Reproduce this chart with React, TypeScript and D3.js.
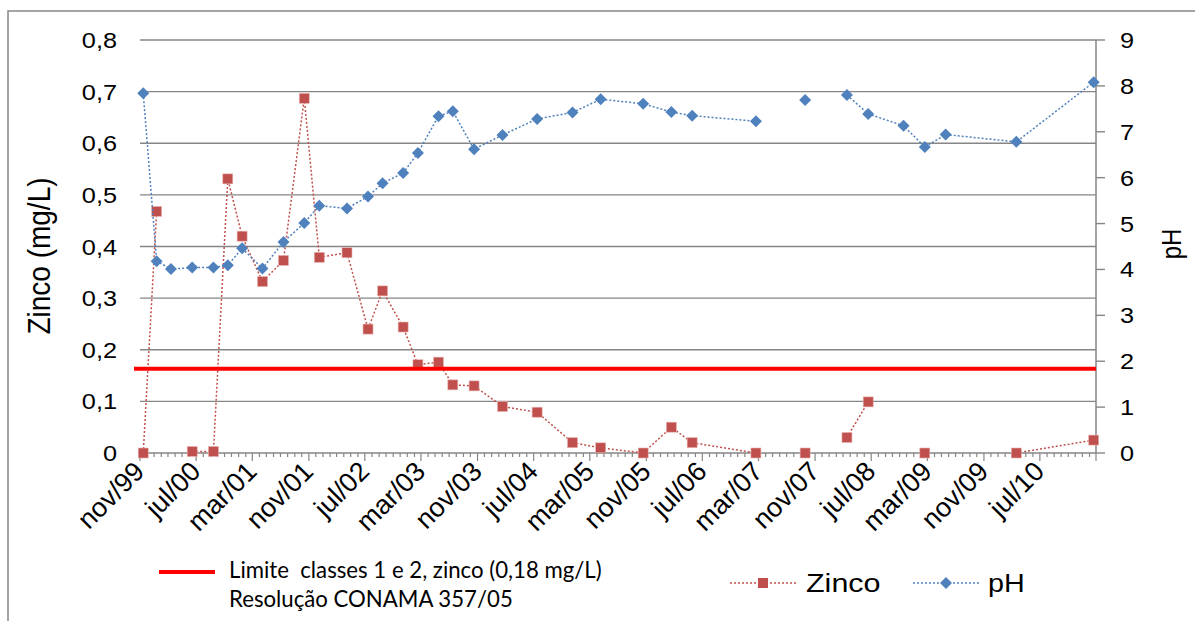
import React from 'react';
import * as d3 from 'd3';

// ---- data ----
const sampleDates: string[] = [
  '1999-11-15', '2000-01-12', '2000-03-14', '2000-06-14', '2000-09-14', '2000-11-15',
  '2001-01-16', '2001-04-14', '2001-07-14', '2001-10-12', '2001-12-16', '2002-04-15',
  '2002-07-15', '2002-09-16', '2002-12-14', '2003-02-16', '2003-05-16', '2003-07-17',
  '2003-10-17', '2004-02-17', '2004-07-16', '2004-12-16', '2005-04-17', '2005-10-18',
  '2006-02-17', '2006-05-18', '2007-02-18', '2007-06-15', '2007-09-19', '2007-12-15',
  '2008-03-18', '2008-06-18', '2008-11-18', '2009-02-18', '2009-05-19', '2010-03-21',
  '2011-02-19',
];
const zincoValues: (number | null)[] = [
  0, 0.468, null, 0.003, 0.003, 0.531,
  0.42, 0.332, 0.373, 0.687, 0.379, 0.388,
  0.24, 0.314, 0.244, 0.171, 0.176, 0.132,
  0.13, 0.09, 0.079, 0.02, 0.01, 0,
  0.05, 0.02, 0, null, 0, null,
  0.03, 0.099, null, 0, null, 0,
  0.025,
];
const phValues: (number | null)[] = [
  7.84, 4.18, 4.01, 4.04, 4.04, 4.09,
  4.46, 4.02, 4.6, 5.01, 5.39, 5.33,
  5.59, 5.88, 6.1, 6.54, 7.34, 7.45,
  6.62, 6.93, 7.28, 7.42, 7.71, 7.61,
  7.43, 7.35, 7.23, null, 7.69, null,
  7.8, 7.39, 7.13, 6.67, 6.94, 6.78,
  8.08,
];
const zincoTicks = [0, 0.1, 0.2, 0.3, 0.4, 0.5, 0.6, 0.7, 0.8];
const phTicks = [0, 1, 2, 3, 4, 5, 6, 7, 8, 9];
const monthNames = ['jan', 'fev', 'mar', 'abr', 'mai', 'jun', 'jul', 'ago', 'set', 'out', 'nov', 'dez'];
const axisStart = '1999-11-01';
const axisEnd = '2011-03-01';
const majorStepMonths = 8;
const limitValue = 0.163;
const limitLegend1 = 'Limite  classes 1 e 2, zinco (0,18 mg/L)';
const limitLegend2 = 'Resolução CONAMA 357/05';

const W = 1195;
const H = 621;
const plot = { left: 140, right: 1096, top: 40, bottom: 453 };
const ARIAL = "'Liberation Sans', Arial, sans-serif";
const CALIBRI = "Lato, 'Open Sans', sans-serif";
const GRID = '#868686';
const RED = '#C0504D';
const BLUE = '#4F81BD';
const SX = 1.15;

const parse = d3.timeParse('%Y-%m-%d');

export default function App() {
  const start = parse(axisStart)!;
  const end = parse(axisEnd)!;
  const x = d3.scaleTime().domain([start, end]).range([plot.left, plot.right]);
  const yL = d3.scaleLinear().domain([0, 0.8]).range([plot.bottom, plot.top]);
  const yR = d3.scaleLinear().domain([0, 9]).range([plot.bottom, plot.top]);

  const rows = sampleDates.map((d, i) => ({ date: parse(d)!, z: zincoValues[i], p: phValues[i] }));

  const zLine = d3.line<any>().defined((d) => d.z != null).x((d) => x(d.date)).y((d) => yL(d.z));
  const pLine = d3.line<any>().defined((d) => d.p != null).x((d) => x(d.date)).y((d) => yR(d.p));

  const months = d3.timeMonth.range(start, d3.timeMonth.offset(end, 1));
  const majors = months.filter((_, i) => i % majorStepMonths === 0);
  const labelMonths = majors.slice(0, majors.length - 1);
  const fmt = (d: Date) => `${monthNames[d.getMonth()]}/${String(d.getFullYear() % 100).padStart(2, '0')}`;
  const fmtZ = (v: number) => (v === 0 ? '0' : v.toFixed(1).replace('.', ','));

  const sq = 10;
  const dm = 6;

  return (
    <div style={{ position: 'absolute', left: 0, top: 0, width: W, height: H, overflow: 'hidden', background: '#fff' }}>
      <svg width={W} height={H} style={{ display: 'block' }}>
        <rect x={0} y={0} width={W} height={H} fill="#fff" />
        {/* outer chart border */}
        <rect x={8} y={11} width={W + 20} height={H + 20} fill="none" stroke={GRID} strokeWidth={1.5} />

        {/* gridlines */}
        {zincoTicks.filter((t) => t > 0).map((t) => (
          <line key={'g' + t} x1={plot.left} x2={plot.right} y1={yL(t)} y2={yL(t)} stroke={GRID} strokeWidth={1.4} />
        ))}

        {/* x axis */}
        <line x1={plot.left - 2} x2={plot.right} y1={plot.bottom} y2={plot.bottom} stroke={GRID} strokeWidth={1.5} />
        {months.map((m, i) => (
          <line key={'mt' + i} x1={x(m)} x2={x(m)} y1={plot.bottom} y2={plot.bottom + (i % majorStepMonths === 0 ? 8 : 4)} stroke={GRID} strokeWidth={1.2} />
        ))}
        {labelMonths.map((m, i) => {
          const tx = x(m) + 6;
          const ty = plot.bottom + 20;
          return (
            <text key={'xl' + i} transform={`translate(${tx},${ty}) rotate(-45)`} textAnchor="end" fontFamily={ARIAL} fontSize={27} fill="#000">
              {fmt(m)}
            </text>
          );
        })}

        {/* left axis labels */}
        {zincoTicks.map((t) => (
          <text key={'yl' + t} transform={`translate(${117},${yL(t) + 8}) scale(${SX},1)`} textAnchor="end" fontFamily={ARIAL} fontSize={22} fill="#000">
            {fmtZ(t)}
          </text>
        ))}
        <text transform={`translate(${50},${256}) scale(${SX},1) rotate(-90)`} textAnchor="middle" fontFamily={ARIAL} fontSize={28} fill="#000">
          Zinco (mg/L)
        </text>

        {/* right axis */}
        <line x1={plot.right} x2={plot.right} y1={plot.top} y2={plot.bottom} stroke={GRID} strokeWidth={1.5} />
        {phTicks.map((t) => (
          <g key={'yr' + t}>
            <line x1={plot.right} x2={plot.right + 9} y1={yR(t)} y2={yR(t)} stroke={GRID} strokeWidth={1.4} />
            <text transform={`translate(${1120},${yR(t) + 8}) scale(${SX},1)`} textAnchor="start" fontFamily={ARIAL} fontSize={22} fill="#000">
              {t}
            </text>
          </g>
        ))}
        <text transform={`translate(${1181},${244}) scale(${SX},1) rotate(-90)`} textAnchor="middle" fontFamily={ARIAL} fontSize={24} fill="#000">
          pH
        </text>

        {/* series: Zinco */}
        <path d={zLine(rows) || ''} fill="none" stroke={RED} strokeWidth={1.5} strokeDasharray="2,2" />
        {rows.filter((r) => r.z != null).map((r, i) => (
          <rect key={'zs' + i} x={x(r.date) - sq / 2} y={yL(r.z as number) - sq / 2} width={sq} height={sq} fill={RED} stroke="#E8B4B2" strokeWidth={0.6} />
        ))}

        {/* series: pH */}
        <path d={pLine(rows) || ''} fill="none" stroke={BLUE} strokeWidth={1.5} strokeDasharray="2,2" />
        {rows.filter((r) => r.p != null).map((r, i) => {
          const cx = x(r.date);
          const cy = yR(r.p as number);
          return <path key={'pd' + i} d={`M${cx},${cy - dm}L${cx + dm},${cy}L${cx},${cy + dm}L${cx - dm},${cy}Z`} fill={BLUE} />;
        })}

        {/* limit line */}
        <line x1={plot.left - 6} x2={plot.right} y1={yL(limitValue)} y2={yL(limitValue)} stroke="#FF0000" strokeWidth={4} />

        {/* legend */}
        <line x1={159} x2={215} y1={572} y2={572} stroke="#FF0000" strokeWidth={4} />
        <text x={229} y={578} fontFamily={CALIBRI} fontSize={22.2} fill="#000" style={{ whiteSpace: 'pre' }}>{limitLegend1}</text>
        <text x={229} y={607} fontFamily={CALIBRI} fontSize={22.2} fill="#000" style={{ whiteSpace: 'pre' }}>{limitLegend2}</text>

        <line x1={730} x2={797} y1={583} y2={583} stroke={RED} strokeWidth={1.5} strokeDasharray="2,2" />
        <rect x={763 - sq / 2} y={583 - sq / 2} width={sq} height={sq} fill={RED} />
        <text transform={`translate(${806},${592}) scale(${SX},1)`} fontFamily={ARIAL} fontSize={26.5} fill="#000">Zinco</text>

        <line x1={913} x2={979} y1={583} y2={583} stroke={BLUE} strokeWidth={1.5} strokeDasharray="2,2" />
        <path d={`M946,${583 - dm}L${946 + dm},583L946,${583 + dm}L${946 - dm},583Z`} fill={BLUE} />
        <text transform={`translate(${988},${592}) scale(${SX},1)`} fontFamily={ARIAL} fontSize={25} fill="#000">pH</text>
      </svg>
    </div>
  );
}
